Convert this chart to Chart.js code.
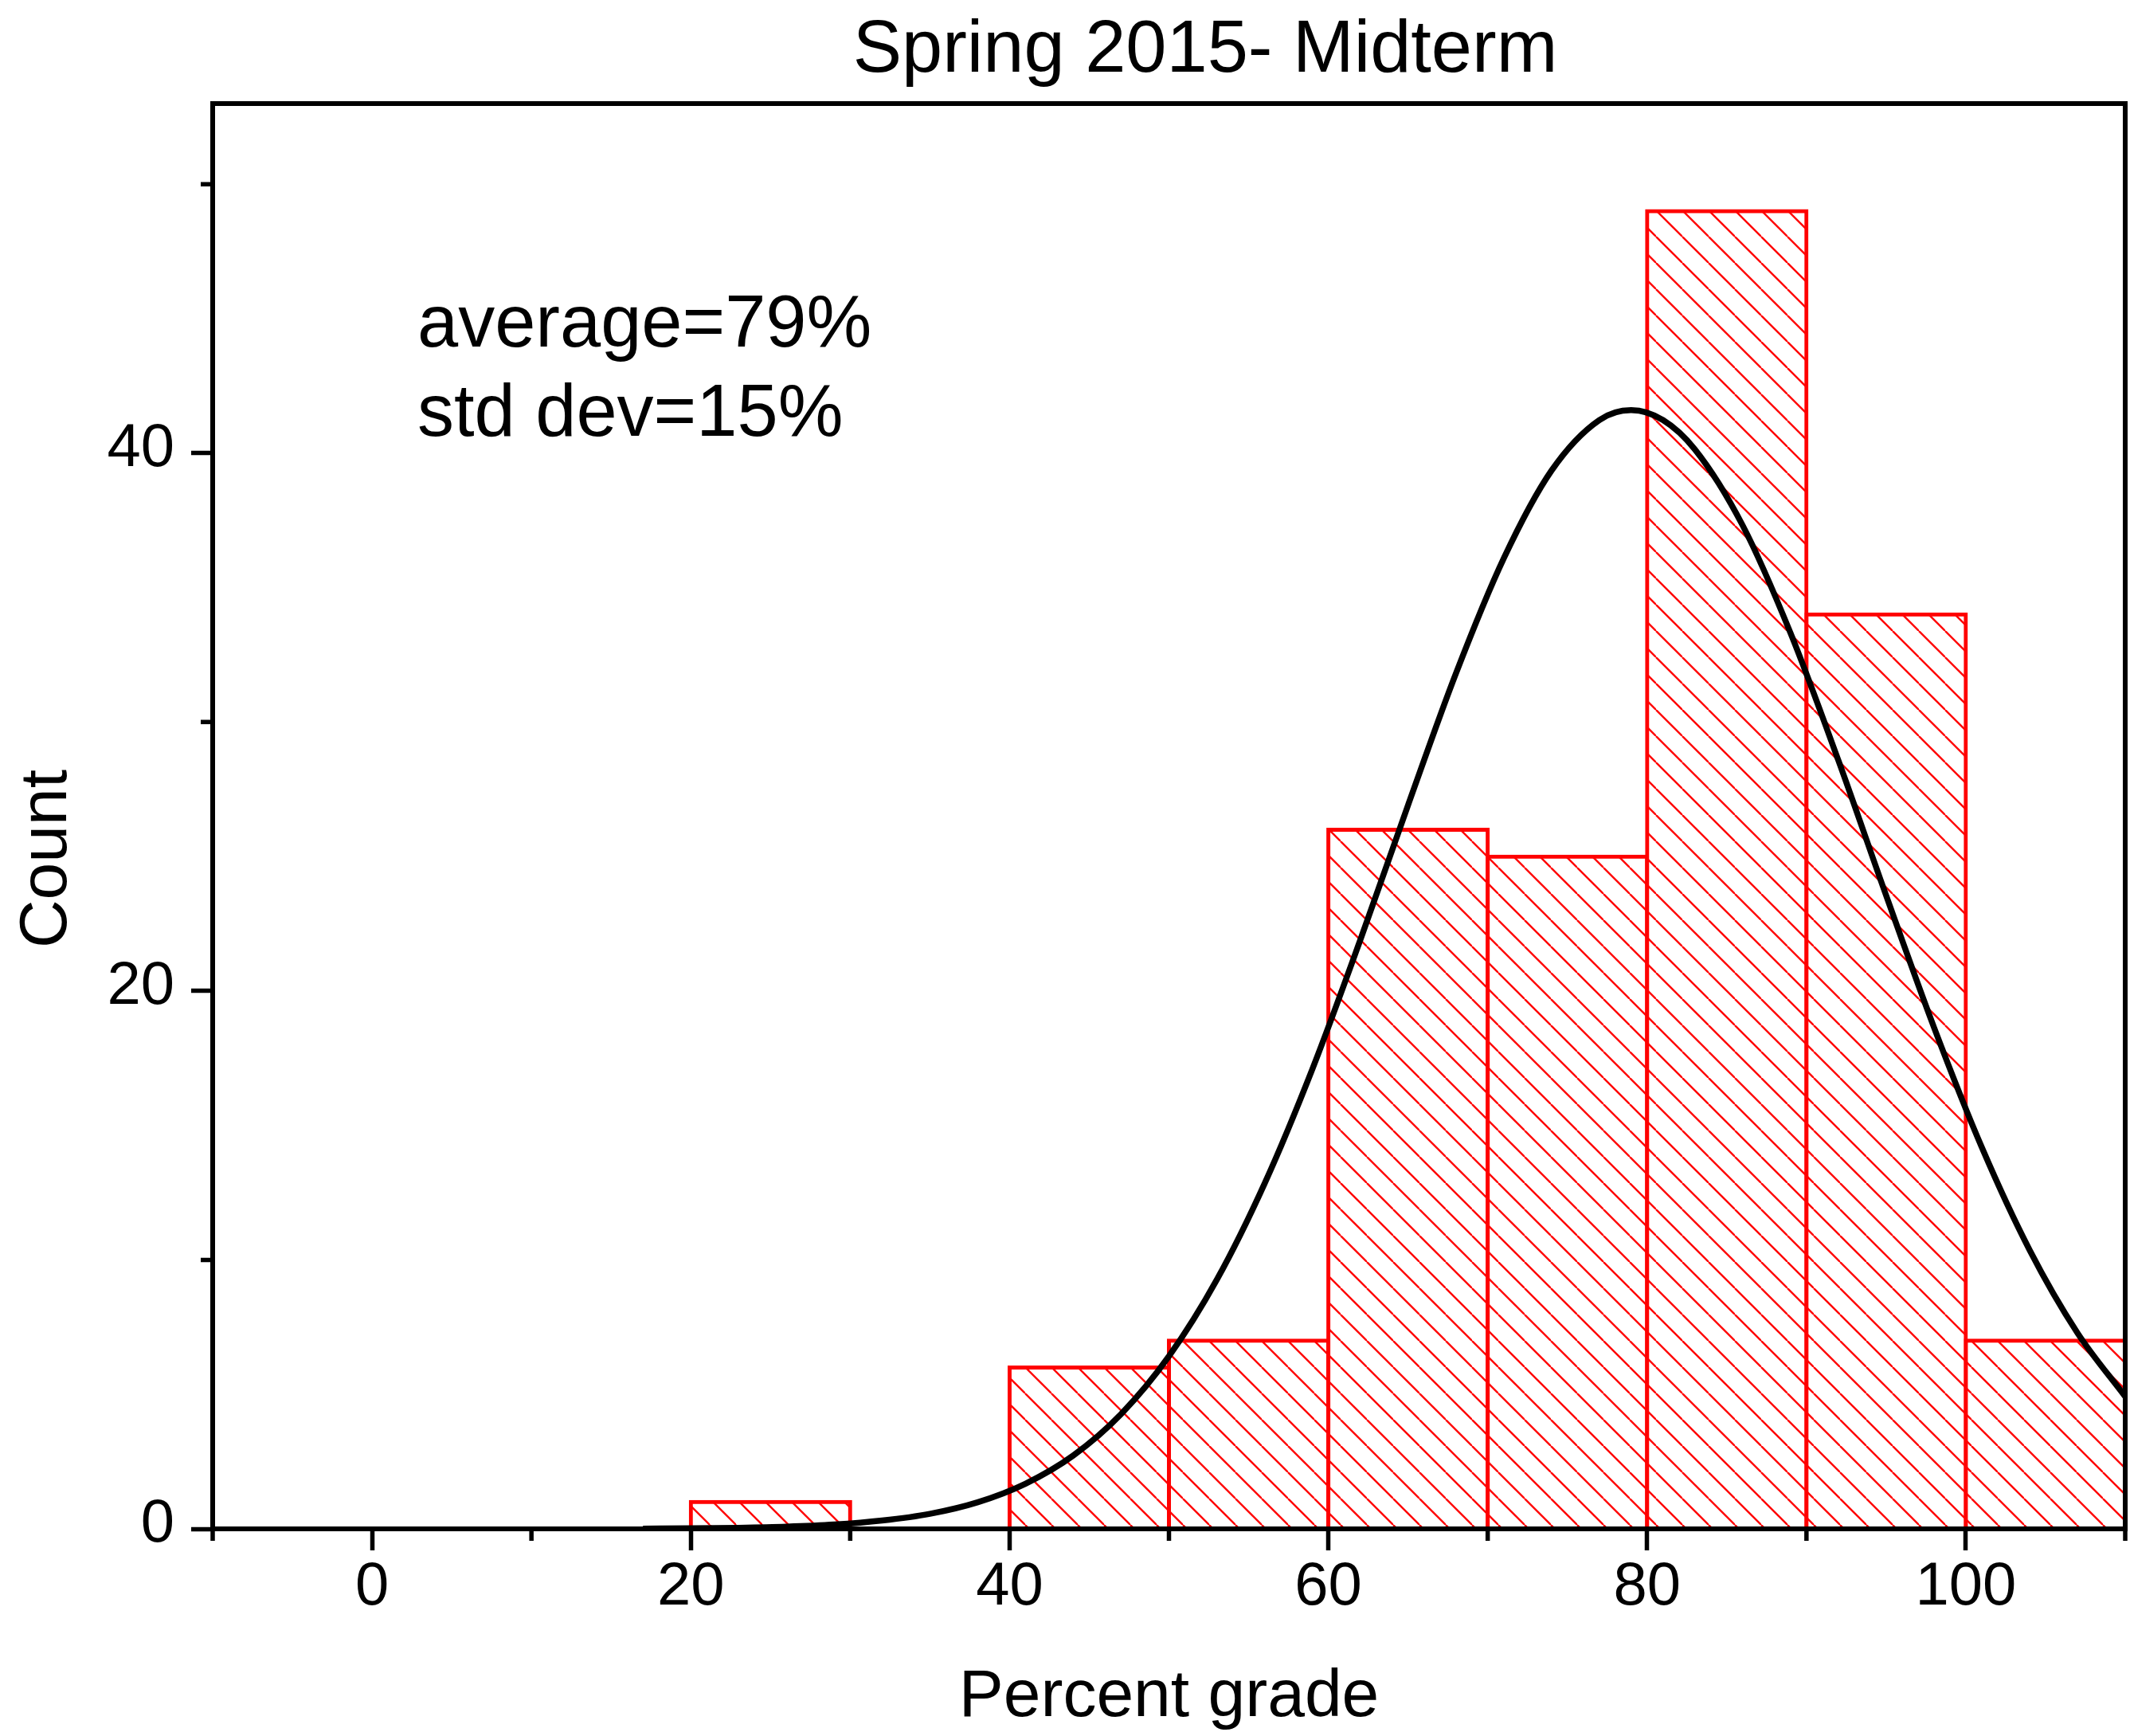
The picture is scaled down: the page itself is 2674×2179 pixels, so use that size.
<!DOCTYPE html>
<html>
<head>
<meta charset="utf-8">
<title>Spring 2015- Midterm</title>
<script src="https://cdn.jsdelivr.net/npm/chart.js@4.4.1/dist/chart.umd.min.js"></script>
<style>
  html, body { margin: 0; padding: 0; background: #fff; }
  canvas { display: block; }
</style>
</head>
<body>
<canvas id="hist" width="2674" height="2179"></canvas>
<script>
// histogram bins (left edge of each 10% bin) and counts
const binStarts = [20, 40, 50, 60, 70, 80, 90, 100];
const binWidth = 10;
const counts = [1, 6, 7, 26, 25, 49, 34, 7];

// normal fit curve
const fitX = [17, 20, 23, 26, 29, 32, 35, 38, 41, 44, 47, 50, 53, 56, 59, 62,
              65, 68, 71, 74, 77, 79, 81, 83, 86, 89, 92, 95, 98, 101, 104, 107, 110];
const fitY = [0.01, 0.02, 0.04, 0.08, 0.16, 0.31, 0.56, 0.99, 1.68, 2.73, 4.27, 6.42, 9.26, 12.84, 17.10, 21.89,
              26.91, 31.80, 36.08, 39.35, 41.23, 41.6, 41.23, 40.14, 37.31, 33.31, 28.58, 23.55, 18.65, 14.19, 10.37, 7.29, 4.92];

// axis ticks
const xTickLabels = [0, 20, 40, 60, 80, 100];
const xMinorTicks = [-10, 10, 30, 50, 70, 90, 110];
const yTickLabels = [0, 20, 40];
const yMinorTicks = [10, 30, 50];

const titleText = 'Spring 2015- Midterm';
const noteLines = ['average=79%', 'std dev=15%'];
const xTitle = 'Percent grade';
const yTitle = 'Count';

const FONT = '"Liberation Sans", Arial, sans-serif';
Chart.defaults.font.family = FONT;
Chart.defaults.color = '#000';

// red diagonal hatch, like Origin's pattern fill
function makeHatch() {
    const s = 33;
    const c = document.createElement('canvas');
    c.width = s;
    c.height = s;
    const g = c.getContext('2d');
    g.fillStyle = '#fff';
    g.fillRect(0, 0, s, s);
    g.strokeStyle = '#ff0000';
    g.lineWidth = 2.4;
    for (let k = -1; k <= 1; k++) {
        g.beginPath();
        g.moveTo(k * s, 0);
        g.lineTo(k * s + s, s);
        g.stroke();
    }
    return g.createPattern(c, 'repeat');
}

function majorTickColor(list) {
    return (c) => (c.tick && list.includes(c.tick.value)) ? '#000' : 'rgba(0,0,0,0)';
}

let barData = binStarts.map((b, i) => ({ x: b + binWidth / 2, y: counts[i] }));
let fitData = fitX.map((v, i) => ({ x: v, y: fitY[i] }));

// frame, minor ticks and the text blocks
const decor = {
    id: 'decor',
    afterDraw(chart) {
        const { ctx, chartArea: a } = chart;
        const xs = chart.scales.x;
        const ys = chart.scales.y;
        ctx.save();
        ctx.strokeStyle = '#000';
        ctx.lineWidth = 6;
        ctx.lineJoin = 'miter';
        ctx.strokeRect(a.left, a.top, a.right - a.left, a.bottom - a.top);

        ctx.lineWidth = 5.5;
        ctx.beginPath();
        xMinorTicks.forEach(v => {
            const p = xs.getPixelForValue(v);
            ctx.moveTo(p, a.bottom);
            ctx.lineTo(p, a.bottom + 15);
        });
        yMinorTicks.forEach(v => {
            const p = ys.getPixelForValue(v);
            ctx.moveTo(a.left, p);
            ctx.lineTo(a.left - 15, p);
        });
        ctx.stroke();

        ctx.fillStyle = '#000';
        ctx.textBaseline = 'alphabetic';

        ctx.font = '92px ' + FONT;
        ctx.textAlign = 'center';
        ctx.fillText(titleText, 1513, 90);

        ctx.textAlign = 'left';
        ctx.fillText(noteLines[0], 524, 435);
        ctx.fillText(noteLines[1], 524, 547);

        ctx.font = '84px ' + FONT;
        ctx.textAlign = 'center';
        ctx.fillText(xTitle, (a.left + a.right) / 2, 2154);

        ctx.translate(83, 1078);
        ctx.rotate(-Math.PI / 2);
        ctx.fillText(yTitle, 0, 0);
        ctx.restore();
    }
};

const ctx = document.getElementById('hist').getContext('2d');
const chart = new Chart(ctx, {
    type: 'bar',
    data: {
        datasets: [{
            type: 'line',
            label: 'fit',
            data: fitData,
            borderColor: '#000',
            borderWidth: 7.5,
            pointRadius: 0,
            fill: false,
            cubicInterpolationMode: 'monotone',
            order: 0
        }, {
            type: 'bar',
            label: 'Count',
            data: barData,
            backgroundColor: makeHatch(),
            borderColor: '#ff0000',
            borderWidth: 5,
            inflateAmount: 2.5,
            borderSkipped: 'start',
            categoryPercentage: 1.0,
            barPercentage: 1.0,
            order: 1
        }]
    },
    options: {
        responsive: false,
        animation: false,
        devicePixelRatio: 1,
        events: [],
        layout: {
            padding: { top: 130, right: 6, left: 0, bottom: 0 }
        },
        plugins: {
            legend: { display: false },
            title: { display: false },
            tooltip: { enabled: false }
        },
        scales: {
            x: {
                type: 'linear',
                min: -10,
                max: 110,
                offset: false,
                afterFit: (scale) => { scale.height = 260; },
                border: { display: false },
                grid: {
                    offset: false,
                    drawOnChartArea: false,
                    drawTicks: true,
                    tickLength: 27,
                    tickWidth: 5.5,
                    tickColor: majorTickColor(xTickLabels)
                },
                ticks: {
                    stepSize: 10,
                    autoSkip: false,
                    maxRotation: 0,
                    padding: 1,
                    font: { size: 76 },
                    color: '#000',
                    callback: (v) => xTickLabels.includes(v) ? String(v) : ''
                }
            },
            y: {
                type: 'linear',
                min: 0,
                max: 53,
                afterFit: (scale) => { scale.width = 267; },
                border: { display: false },
                grid: {
                    drawOnChartArea: false,
                    drawTicks: true,
                    tickLength: 27,
                    tickWidth: 5.5,
                    tickColor: majorTickColor(yTickLabels)
                },
                ticks: {
                    stepSize: 10,
                    includeBounds: false,
                    autoSkip: false,
                    padding: 21,
                    labelOffset: -5,
                    font: { size: 76 },
                    color: '#000',
                    callback: (v) => yTickLabels.includes(v) ? String(v) : ''
                }
            }
        }
    },
    plugins: [decor]
});
</script>
</body>
</html>
